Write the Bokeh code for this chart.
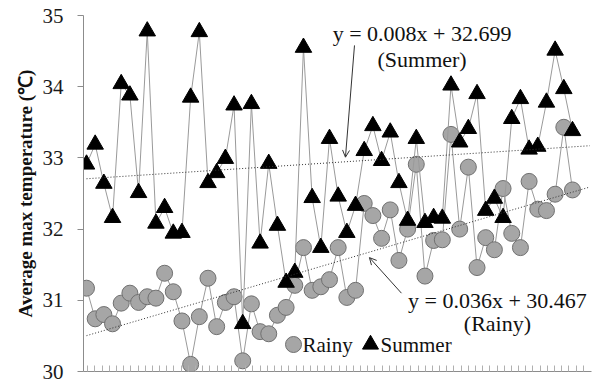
import numpy as np
from bokeh.plotting import figure
from bokeh.models import (Range1d, FixedTicker, Label, Arrow, OpenHead, Legend,
                          LegendItem, Title)
from bokeh.embed import file_html
from bokeh.resources import INLINE

# ---------------- data ----------------
day = list(range(1, 58))
rainy = [31.17, 30.74, 30.80, 30.67, 30.96, 31.10, 30.97, 31.05, 31.03, 31.38,
         31.12, 30.71, 30.10, 30.77, 31.31, 30.63, 30.97, 31.05, 30.15, 30.95,
         30.56, 30.53, 30.79, 30.90, 31.21, 31.74, 31.14, 31.19, 31.29, 31.74,
         31.04, 31.14, 32.36, 32.19, 31.87, 32.27, 31.56, 32.00, 32.91, 31.34,
         31.84, 31.85, 33.33, 32.00, 32.87, 31.46, 31.88, 31.71, 32.57, 31.94,
         31.74, 32.67, 32.28, 32.26, 32.49, 33.43, 32.55]
summer = [32.91, 33.19, 32.64, 32.16, 34.04, 33.88, 32.51, 34.78, 32.08, 32.30,
          31.94, 31.95, 33.85, 34.77, 32.65, 32.79, 32.99, 33.74, 30.67, 33.76,
          31.80, 32.92, 32.05, 31.25, 31.39, 34.55, 32.44, 31.74, 33.27, 32.46,
          31.95, 32.33, 33.10, 33.45, 32.96, 33.36, 32.65, 32.12, 33.27, 32.09,
          32.16, 32.15, 34.02, 33.22, 33.41, 33.90, 32.26, 32.43, 32.16, 33.55,
          33.83, 33.12, 33.16, 33.78, 34.51, 33.97, 33.38]
rainy_slope, rainy_intercept = 0.036, 30.467
summer_slope, summer_intercept = 0.008, 32.699
trend_x = [1, 59]
y_ticks = [30, 31, 32, 33, 34, 35]
rainy_eq = "y = 0.036x + 30.467"
summer_eq = "y = 0.008x + 32.699"
y_title = "Average max temperature (\u2103)"
series_names = ["Rainy", "Summer"]

FONT = "Liberation Serif"
AXIS_GREY = "#8c8c8c"

p = figure(width=599, height=382, output_backend="svg", toolbar_location=None,
           title=None,
           x_range=Range1d(0.654, 59.19), y_range=Range1d(30, 35),
           min_border_left=83, min_border_right=8, min_border_top=15,
           min_border_bottom=11)
p.outline_line_color = None
p.grid.visible = False
p.background_fill_color = "white"
p.border_fill_color = "white"

# y axis
p.yaxis.ticker = FixedTicker(ticks=y_ticks)
p.yaxis.major_tick_out = 6
p.yaxis.major_tick_in = 0
p.yaxis.minor_tick_line_color = None
p.yaxis.axis_line_color = AXIS_GREY
p.yaxis.major_tick_line_color = AXIS_GREY
p.yaxis.major_label_text_font = FONT
p.yaxis.major_label_text_font_size = "21px"
p.yaxis.major_label_text_color = "#1a1a1a"
p.yaxis.major_label_standoff = 14

# x axis: only small inside ticks, no labels
x_ticks = list(1.15 + 0.8273 * np.arange(70))
p.xaxis.ticker = FixedTicker(ticks=x_ticks)
p.xaxis.major_tick_in = 6
p.xaxis.major_tick_out = 0
p.xaxis.minor_tick_line_color = None
p.xaxis.axis_line_color = AXIS_GREY
p.xaxis.major_tick_line_color = "#b0b0b0"
p.xaxis.major_label_text_color = None
p.xaxis.major_label_text_font_size = "1px"
p.xaxis.major_label_standoff = 0

# series
r_line = p.line(day, rainy, line_color="#9a9a9a", line_width=1)
r_pts = p.scatter(day, rainy, marker="circle", size=16, fill_color="#a6a6a6",
                  line_color="#707070", line_width=1)
s_line = p.line(day, summer, line_color="#9a9a9a", line_width=1)
s_pts = p.scatter(day, summer, marker="triangle", size=16.5, fill_color="black",
                  line_color="black", line_width=1)

# trend lines
p.line(trend_x, [rainy_intercept + rainy_slope * x for x in trend_x],
       line_color="#333333", line_width=1, line_dash="1 2")
p.line(trend_x, [summer_intercept + summer_slope * x for x in trend_x],
       line_color="#333333", line_width=1, line_dash="1 2")

# equation labels
for txt, x, y in [(summer_eq, 39.67, 34.75), ("(Summer)", 39.67, 34.38),
                  (rainy_eq, 48.35, 31.0), ("(Rainy)", 48.35, 30.67)]:
    p.add_layout(Label(x=x, y=y, text=txt, text_align="center",
                       text_baseline="middle", text_font=FONT,
                       text_font_size="22px", text_color="#111111"))

# arrows
p.add_layout(Arrow(end=OpenHead(size=7, line_width=1, line_color="#333333"),
                   x_start=31.88, y_start=34.58, x_end=30.84, y_end=33.01,
                   line_width=1, line_color="#333333"))
p.add_layout(Arrow(end=OpenHead(size=7, line_width=1, line_color="#333333"),
                   x_start=37.29, y_start=31.10, x_end=33.60, y_end=31.60,
                   line_width=1, line_color="#333333"))

# y axis title (as a side title, shifted upward like the reference)
ytitle = Title(text=y_title, align="center", offset=56, text_font=FONT,
               text_font_size="19px", text_font_style="bold",
               text_color="#111111", standoff=8)
p.add_layout(ytitle, "left")

# legend: marker swatches from the legend, label texts placed next to them
def make_legend(label, rend, loc):
    lg = Legend(items=[LegendItem(label=label, renderers=[rend])],
                orientation="horizontal", location=loc)
    lg.background_fill_alpha = 0
    lg.border_line_color = None
    lg.padding = 0
    lg.margin = 0
    lg.spacing = 0
    lg.label_standoff = 0
    lg.glyph_width = 40
    lg.glyph_height = 40
    lg.label_height = 20
    lg.label_text_font = FONT
    lg.label_text_font_size = "21px"
    lg.label_text_color = None
    return lg

p.add_layout(make_legend(series_names[0], r_pts, (190, 7)))
p.add_layout(make_legend(series_names[1], s_pts, (267, 7)))
for name, sx in zip(series_names, [219, 297]):
    p.add_layout(Label(x=sx, y=27, x_units="screen", y_units="screen",
                       text=name, text_align="left", text_baseline="middle",
                       text_font=FONT, text_font_size="21px",
                       text_color="#111111"))

open("out.html", "w").write(file_html(p, INLINE))
